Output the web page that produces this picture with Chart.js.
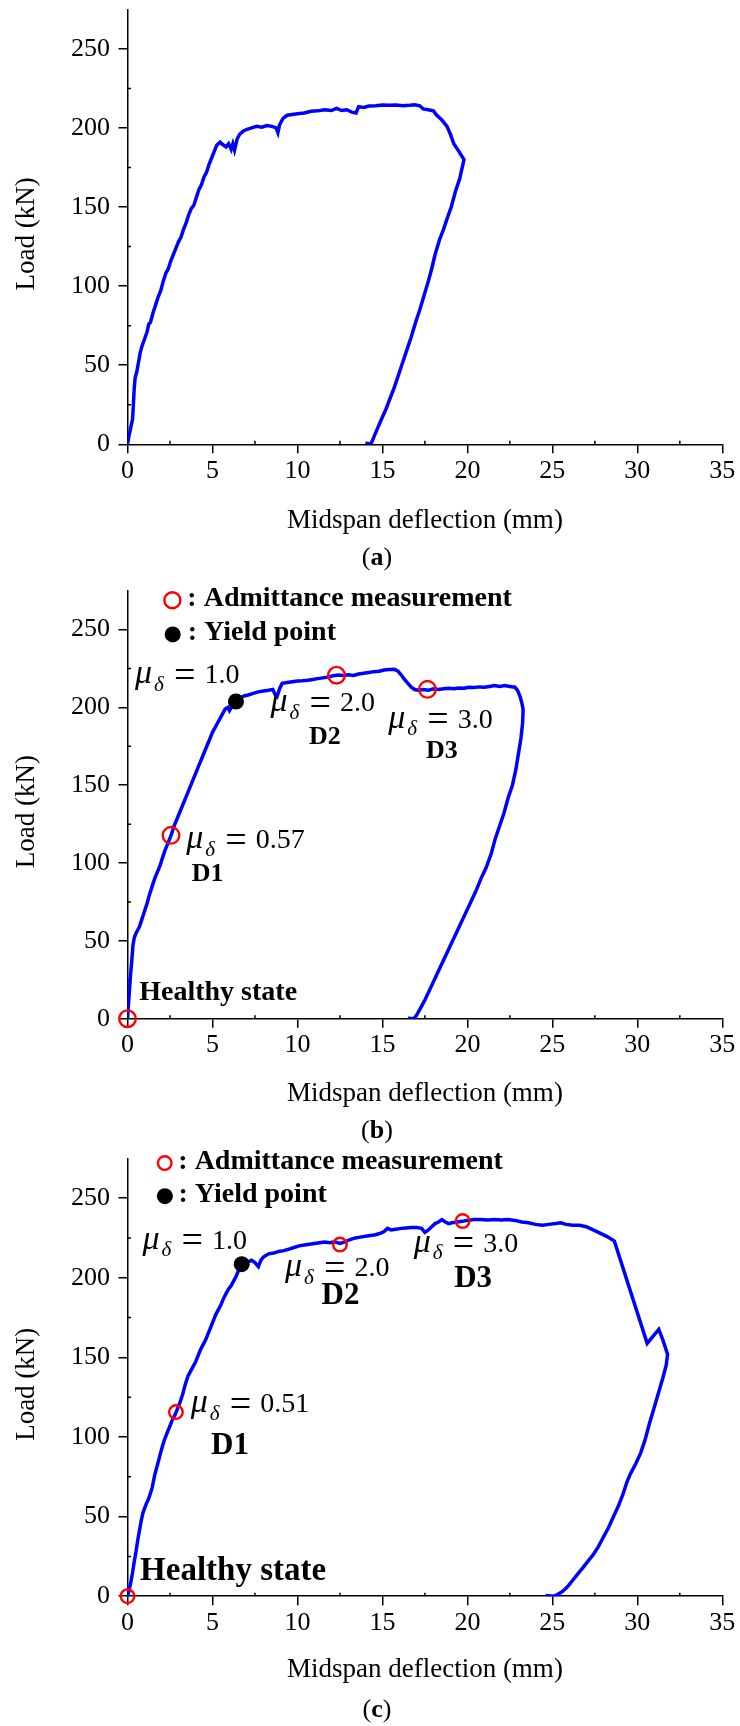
<!DOCTYPE html>
<html>
<head>
<meta charset="utf-8">
<script src="https://cdn.jsdelivr.net/npm/chart.js@4.4.1/dist/chart.umd.min.js"></script>
<style>
  html, body { margin: 0; padding: 0; background: #fff; }
  body { width: 740px; height: 1726px; position: relative; overflow: hidden; }
  canvas { position: absolute; left: 0; }
</style>
</head>
<body>
<canvas id="panelA" width="740" height="580" style="top:0px"></canvas>
<canvas id="panelB" width="740" height="568" style="top:580px"></canvas>
<canvas id="panelC" width="740" height="578" style="top:1148px"></canvas>
<script>
// ---------- Load–deflection records: midspan deflection (mm), load (kN) ----------
const dispA = [0, 0.1, 0.2, 0.3, 0.35, 0.4, 0.45, 0.55, 0.65, 0.75, 0.85, 0.95, 1.05, 1.15, 1.25, 1.35, 1.5, 1.65, 1.8, 1.95,
  2.1, 2.25, 2.4, 2.55, 2.7, 2.85, 3.0, 3.15, 3.3, 3.45, 3.6, 3.75, 3.9, 4.05, 4.2, 4.35, 4.5, 4.65, 4.8, 4.95,
  5.1, 5.25, 5.45, 5.6, 5.8, 5.95, 6.1, 6.2, 6.3, 6.45, 6.6, 6.8, 7.0, 7.3, 7.6, 7.9, 8.2, 8.5, 8.75, 8.85,
  8.95, 9.15, 9.4, 9.7, 10.0, 10.4, 10.8, 11.2, 11.6, 12.0, 12.3, 12.6, 12.9, 13.2, 13.45, 13.6, 13.9, 14.2, 14.6, 15.0,
  15.4, 15.8, 16.2, 16.6, 16.9, 17.2, 17.4, 17.7, 18.0, 18.2, 18.5, 18.8, 19.0, 19.2, 19.45, 19.8,
  19.55, 19.3, 19.05, 18.85, 18.6, 18.35, 18.1, 17.9, 17.7, 17.45, 17.2, 16.95, 16.7, 16.45, 16.2, 15.95, 15.7, 15.45,
  15.2, 14.95, 14.75, 14.55, 14.4, 14.3, 14.0];
const loadA = [0, 6, 11, 16, 26, 36, 42, 46, 52, 58, 62, 65, 68, 71, 76, 77, 83, 88, 93, 97,
  103, 108, 111, 116, 120, 124, 128, 131, 136, 140, 145, 149, 151, 156, 161, 164, 169, 172, 177, 181,
  185, 189, 191, 189.5, 188, 190, 186.5, 190, 186, 193, 196, 198, 199, 200, 201, 200.5, 201.5, 201, 200, 197,
  202, 206, 208, 208.5, 209, 209.5, 210.5, 210.8, 211.5, 211, 212.3, 211, 211.5, 210, 209.5, 213.5, 213, 213.8, 214, 214.5,
  214.3, 214.5, 214, 214.3, 214.6, 214, 212, 211.5, 210.8, 208, 205, 201, 196, 190, 186, 180,
  168, 160, 150, 144, 136, 129, 120, 111, 103, 94, 85, 77, 68, 60, 52, 44, 36, 29,
  22, 16, 11, 6, 2, 0, 0.8];

const dispB = [0, 0.05, 0.1, 0.17, 0.25, 0.32, 0.4, 0.5, 0.6, 0.7, 0.85, 1.0, 1.15, 1.3, 1.45, 1.6, 1.75, 1.9, 2.05, 2.2,
  2.35, 2.5, 2.6, 2.75, 2.9, 3.05, 3.2, 3.35, 3.5, 3.65, 3.8, 3.95, 4.1, 4.25, 4.4, 4.55, 4.7, 4.85, 5.0, 5.15,
  5.3, 5.45, 5.6, 5.75, 5.9, 6.0, 6.15, 6.3, 6.5, 6.7, 6.9, 7.1, 7.4, 7.7, 8.0, 8.3, 8.55, 8.7, 8.8, 8.95,
  9.1, 9.4, 9.7, 10.0, 10.3, 10.6, 10.9, 11.2, 11.5, 11.8, 12.1, 12.4, 12.7, 13.0, 13.3, 13.6, 13.9, 14.2, 14.5, 14.8,
  15.1, 15.4, 15.7, 15.9, 16.1, 16.3, 16.5, 16.7, 16.9, 17.1, 17.4, 17.7, 18.0, 18.3, 18.6, 18.9, 19.2, 19.5, 19.8, 20.1,
  20.4, 20.7, 21.0, 21.3, 21.6, 21.9, 22.2, 22.5, 22.8, 22.95, 23.1, 23.2, 23.28,
  23.25, 23.15, 23.0, 22.85, 22.65, 22.4, 22.15, 21.9, 21.65, 21.4, 21.1, 20.8, 20.5, 20.2, 19.9, 19.6, 19.3, 19.0,
  18.7, 18.4, 18.1, 17.8, 17.5, 17.25, 17.0, 16.85, 16.5];
const loadB = [0, 8, 16, 27, 37, 47, 52, 55, 57, 59, 64, 69, 74, 80, 85, 90, 94, 98, 103, 108,
  112, 116, 119, 124, 128, 132, 136, 140, 144, 148, 152, 156, 160, 164, 168, 172, 176, 180, 184, 187,
  190, 193, 196, 199, 200, 198, 201, 203, 205, 206.5, 207.5, 208, 209, 210, 210.5, 211, 211.5, 208, 207, 212,
  215.5, 216, 216.5, 217, 217.2, 217.5, 218, 218.5, 219, 219.5, 220.3, 220.8, 220.5, 221, 220.5, 221.5, 222, 222.5, 223, 223.2,
  224, 224.3, 224.5, 223.5, 221, 218, 215.5, 213, 211.5, 211, 211.5, 211, 212, 211.5, 212, 212.3, 212, 212.5, 212.3, 213,
  212.8, 213.2, 213, 213.5, 214, 213.5, 214, 213.5, 213, 211, 207, 203, 198.6,
  190, 180, 170, 160, 150, 142, 132, 124, 116, 106, 97, 90, 82, 75, 68, 61, 54, 47,
  40, 33, 26, 19, 12, 7, 2, 0, 0.3];

const dispC = [0, 0.1, 0.2, 0.3, 0.4, 0.5, 0.6, 0.7, 0.8, 0.9, 1.0, 1.1, 1.2, 1.3, 1.45, 1.6, 1.75, 1.9, 2.05, 2.2,
  2.35, 2.5, 2.65, 2.8, 2.95, 3.1, 3.25, 3.4, 3.55, 3.7, 3.85, 4.0, 4.15, 4.3, 4.45, 4.6, 4.75, 4.9, 5.05, 5.2,
  5.35, 5.5, 5.65, 5.8, 5.95, 6.1, 6.25, 6.4, 6.55, 6.72, 6.9, 7.1, 7.3, 7.5, 7.7, 7.85, 8.0, 8.3, 8.6, 8.9,
  9.2, 9.5, 9.8, 10.1, 10.4, 10.7, 11.0, 11.3, 11.6, 11.9, 12.2, 12.5, 12.8, 13.1, 13.4, 13.7, 14.0, 14.3, 14.6, 14.9,
  15.1, 15.3, 15.5, 15.8, 16.1, 16.4, 16.7, 17.0, 17.3, 17.5, 17.7, 17.9, 18.1, 18.3, 18.5, 18.7, 18.9, 19.1, 19.4, 19.7,
  20.0, 20.4, 20.8, 21.2, 21.6, 22.0, 22.4, 22.8, 23.2, 23.6, 24.0, 24.4, 24.8, 25.2, 25.5, 25.8, 26.2, 26.6, 27.0, 27.4,
  27.8, 28.2, 28.65, 30.58, 31.26, 31.5, 31.78,
  31.7, 31.5, 31.2, 30.95, 30.7, 30.45, 30.2, 29.9, 29.6, 29.4, 29.15, 28.9, 28.6, 28.3, 28.0, 27.7, 27.4, 27.1,
  26.8, 26.5, 26.2, 25.9, 25.6, 25.3, 25.1, 24.6];
const loadC = [0, 4, 9, 15, 22, 28, 35, 41, 47, 52, 55, 58, 60, 63, 68, 76, 82, 88, 94, 99,
  103, 107, 111, 114, 118, 122, 127, 133, 138, 141, 144, 147, 151, 155, 158, 161, 165, 169, 173, 177,
  180, 183, 187, 190, 193, 195, 198, 201, 205, 208.5, 210.5, 210, 211, 209.5, 207, 211, 213, 215, 215.5, 216.5,
  217, 218, 219, 220, 220.5, 221, 221.5, 222, 222.5, 222, 222.5, 221.6, 222.5, 224, 225, 225.5, 226, 226.5, 227, 228,
  229, 231, 230, 230.5, 231, 231.3, 231.5, 231.5, 231, 228.5, 230, 232, 234, 235, 236.5, 235, 234, 234.5, 235, 235.4,
  236, 236.5, 236.5, 236.3, 236.5, 236.3, 236.5, 236, 235, 234.5, 233.5, 233, 233.5, 234, 234.5, 233.5, 233, 233, 232, 230,
  228, 226, 223, 158.8, 167.5, 161, 152,
  145, 137, 126, 117, 108, 98, 90, 83, 77, 72, 64, 57, 50, 43, 37, 31, 26, 22,
  18, 14, 10, 6, 3, 1, 0, 0.5];

// Admittance measurements (healthy, D1, D2, D3) and yield points
const admitB_x = [0, 2.56, 12.3, 17.65];
const admitB_y = [0, 117.8, 220.7, 211.6];
const yieldB_x = [6.38];
const yieldB_y = [203.8];
const admitC_x = [0, 2.85, 12.5, 19.72];
const admitC_y = [0, 115.6, 220.8, 235.6];
const yieldC_x = [6.72];
const yieldC_y = [208.5];

// Axis ticks
const xTickValues = [0, 5, 10, 15, 20, 25, 30, 35];
const yTickValues = [0, 50, 100, 150, 200, 250];
const xMinorValues = [2.5, 7.5, 12.5, 17.5, 22.5, 27.5, 32.5];
const yMinorValues = [25, 75, 125, 175, 225];

// ---------- drawing ----------
const FONT = "'Liberation Serif', 'Times New Roman', serif";
const BLUE = '#0000ff';
const RED = '#ff0000';

function pts(xs, ys) { return xs.map((x, i) => ({ x: x, y: ys[i] })); }

// Short inward minor ticks on both axes, plus the vertical axis title
const axisExtras = {
  id: 'axisExtras',
  beforeDatasetsDraw(chart) {
    const { ctx, chartArea, scales: { x, y } } = chart;
    ctx.save();
    ctx.strokeStyle = '#000';
    ctx.lineWidth = 1.5;
    ctx.beginPath();
    xMinorValues.forEach(v => {
      const px = x.getPixelForValue(v);
      ctx.moveTo(px, chartArea.bottom);
      ctx.lineTo(px, chartArea.bottom - 3.5);
    });
    yMinorValues.forEach(v => {
      const py = y.getPixelForValue(v);
      ctx.moveTo(chartArea.left, py);
      ctx.lineTo(chartArea.left + 3.5, py);
    });
    ctx.stroke();

    // "Load (kN)" sits a little below the middle of the axis
    ctx.translate(26.7, (chartArea.top + chartArea.bottom) / 2 + 7);
    ctx.rotate(-Math.PI / 2);
    ctx.fillStyle = '#000';
    ctx.font = '27px ' + FONT;
    ctx.textAlign = 'center';
    ctx.textBaseline = 'middle';
    ctx.fillText('Load (kN)', 0, 0);
    ctx.restore();
  }
};

// Ductility labels, damage labels, legend and panel letter
const panelText = {
  id: 'panelText',
  afterDatasetsDraw(chart, args, opts) {
    const { ctx, scales: { x, y } } = chart;
    ctx.save();
    ctx.fillStyle = '#000';
    ctx.textBaseline = 'alphabetic';
    ctx.textAlign = 'left';

    (opts.mu || []).forEach(m => {
      const px = x.getPixelForValue(m.x), py = y.getPixelForValue(m.y);
      ctx.textAlign = 'left';
      ctx.font = 'italic 34px ' + FONT; ctx.fillText('\u03bc', px - 1, py);
      ctx.font = 'italic 21px ' + FONT; ctx.fillText('\u03b4', px + 18, py + 7.5);
      ctx.font = '38px ' + FONT; ctx.fillText('=', px + 38, py + 3.5);
      ctx.font = '28px ' + FONT; ctx.fillText(m.v, px + 68.5, py);
    });

    (opts.bold || []).forEach(b => {
      const px = x.getPixelForValue(b.x), py = y.getPixelForValue(b.y);
      ctx.textAlign = b.align || 'left';
      ctx.font = 'bold ' + b.size + 'px ' + FONT;
      ctx.fillText(b.text, px, py);
    });

    (opts.legend || []).forEach(l => {
      const px = x.getPixelForValue(l.x), py = y.getPixelForValue(l.y);
      ctx.beginPath();
      ctx.arc(px, py, l.r, 0, Math.PI * 2);
      if (l.kind === 'open') {
        ctx.strokeStyle = RED; ctx.lineWidth = 2.4; ctx.stroke();
      } else {
        ctx.fillStyle = '#000'; ctx.fill();
      }
      ctx.fillStyle = '#000';
      ctx.textAlign = 'left';
      ctx.font = 'bold ' + l.size + 'px ' + FONT;
      ctx.fillText(l.text, px + l.dx, py + 6);
    });

    if (opts.letter) {
      const L = opts.letter;
      ctx.textBaseline = 'middle';
      ctx.textAlign = 'left';
      ctx.font = '26px ' + FONT;
      const wp = ctx.measureText('(').width, wq = ctx.measureText(')').width;
      ctx.font = 'bold 26px ' + FONT;
      const wl = ctx.measureText(L.text).width;
      const sx = L.cx - (wp + wl + wq) / 2;
      ctx.font = '26px ' + FONT; ctx.fillText('(', sx, L.cy);
      ctx.font = 'bold 26px ' + FONT; ctx.fillText(L.text, sx + wp, L.cy);
      ctx.font = '26px ' + FONT; ctx.fillText(')', sx + wp + wl, L.cy);
    }
    ctx.restore();
  }
};

function makeChart(id, geo, datasets, text) {
  const tickFont = { family: FONT, size: 26 };
  const titleFont = { family: FONT, size: 27 };
  const xScaleHeight = geo.h - geo.areaBottom;
  return new Chart(document.getElementById(id), {
    type: 'scatter',
    data: { datasets: datasets },
    options: {
      responsive: false,
      animation: false,
      events: [],
      layout: { padding: { top: geo.areaTop, right: 17.7, bottom: 0, left: 0 } },
      plugins: {
        legend: { display: false },
        tooltip: { enabled: false },
        panelText: text
      },
      scales: {
        x: {
          type: 'linear', min: 0, max: 35,
          afterBuildTicks: s => { s.ticks = xTickValues.map(v => ({ value: v })); },
          afterFit: s => { s.height = xScaleHeight; s.paddingLeft = 0; s.paddingRight = 0; },
          ticks: { color: '#000', font: tickFont, padding: 2, maxRotation: 0, autoSkip: false },
          grid: { drawOnChartArea: false, drawTicks: true, tickLength: 9, color: '#000', lineWidth: 1.5 },
          border: { display: true, color: '#000', width: 1.5 },
          title: {
            display: true, text: 'Midspan deflection (mm)', color: '#000', font: titleFont,
            padding: { top: 0, bottom: geo.h - geo.xTitle - 16.2 }
          }
        },
        y: {
          type: 'linear', min: 0, max: 275,
          afterBuildTicks: s => { s.ticks = yTickValues.map(v => ({ value: v })); },
          afterFit: s => { s.width = 127.5; s.paddingTop = 0; s.paddingBottom = 0; },
          ticks: { color: '#000', font: tickFont, padding: 8.5, autoSkip: false },
          grid: { drawOnChartArea: false, drawTicks: true, tickLength: 9, color: '#000', lineWidth: 1.5 },
          border: { display: true, color: '#000', width: 1.5 },
          title: { display: false }
        }
      }
    },
    plugins: [axisExtras, panelText]
  });
}

function curve(xs, ys) {
  return { data: pts(xs, ys), showLine: true, borderColor: BLUE, borderWidth: 3.5, pointRadius: 0, fill: false, order: 2 };
}
function openMarks(xs, ys, r) {
  return { data: pts(xs, ys), showLine: false, pointRadius: r, pointStyle: 'circle',
    borderColor: RED, borderWidth: 2.4, backgroundColor: 'rgba(0,0,0,0)', clip: false, order: 1 };
}
function dotMarks(xs, ys, r) {
  return { data: pts(xs, ys), showLine: false, pointRadius: r, pointStyle: 'circle',
    borderColor: '#000', borderWidth: 0, backgroundColor: '#000', clip: false, order: 0 };
}

// (a)
makeChart('panelA', { h: 580, areaTop: 9.3, areaBottom: 444.3, xTitle: 521 },
  [curve(dispA, loadA)],
  { letter: { text: 'a', cx: 377, cy: 558 } });

// (b)
makeChart('panelB', { h: 568, areaTop: 1.7, areaBottom: 438.7, xTitle: 514 },
  [curve(dispB, loadB), openMarks(admitB_x, admitB_y, 8.3), dotMarks(yieldB_x, yieldB_y, 8)],
  {
    mu: [
      { x: 0.5, y: 215.4, v: '1.0' },
      { x: 8.48, y: 197.5, v: '2.0' },
      { x: 15.4, y: 187.0, v: '3.0' },
      { x: 3.52, y: 109.4, v: '0.57' }
    ],
    bold: [
      { text: 'D1', x: 4.71, y: 88.7, size: 26, align: 'center' },
      { text: 'D2', x: 11.62, y: 176.6, size: 26, align: 'center' },
      { text: 'D3', x: 18.5, y: 167.5, size: 26, align: 'center' },
      { text: 'Healthy state', x: 0.69, y: 12.2, size: 28, align: 'left' }
    ],
    legend: [
      { kind: 'open', x: 2.64, y: 268.9, r: 8, dx: 15, size: 28, text: ': Admittance measurement' },
      { kind: 'dot', x: 2.66, y: 246.9, r: 8, dx: 15, size: 28, text: ': Yield point' }
    ],
    letter: { text: 'b', cx: 377, cy: 551 }
  });

// (c)
makeChart('panelC', { h: 578, areaTop: 10.3, areaBottom: 448.2, xTitle: 522 },
  [curve(dispC, loadC), openMarks(admitC_x, admitC_y, 6.8), dotMarks(yieldC_x, yieldC_y, 8)],
  {
    mu: [
      { x: 0.94, y: 218.2, v: '1.0' },
      { x: 9.32, y: 200.8, v: '2.0' },
      { x: 16.91, y: 216.3, v: '3.0' },
      { x: 3.78, y: 115.6, v: '0.51' }
    ],
    bold: [
      { text: 'D1', x: 6.03, y: 89.3, size: 31, align: 'center' },
      { text: 'D2', x: 12.53, y: 183.4, size: 31, align: 'center' },
      { text: 'D3', x: 20.34, y: 193.9, size: 31, align: 'center' },
      { text: 'Healthy state', x: 0.74, y: 10.2, size: 33, align: 'left' }
    ],
    legend: [
      { kind: 'open', x: 2.19, y: 272, r: 6.8, dx: 13.6, size: 28, text: ': Admittance measurement' },
      { kind: 'dot', x: 2.2, y: 251.2, r: 8, dx: 13.6, size: 28, text: ': Yield point' }
    ],
    letter: { text: 'c', cx: 377, cy: 562 }
  });
</script>
</body>
</html>
